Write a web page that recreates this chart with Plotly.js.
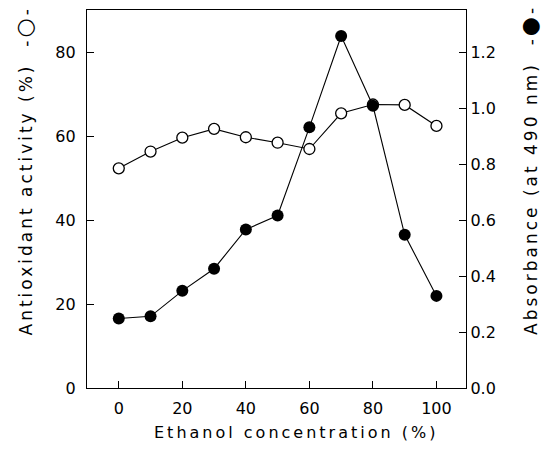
<!DOCTYPE html>
<html><head><meta charset="utf-8">
<script src="https://cdn.plot.ly/plotly-3.0.1.min.js"></script>
<style>
html,body{margin:0;padding:0;background:#fff;}
#chart{width:551px;height:457px;}
.annotation-text{letter-spacing:3px;}
</style></head><body><div id="chart"></div>
<script>
const ethanol = [0, 10, 20, 30, 40, 50, 60, 70, 80, 90, 100];
const antioxidant = [52.3, 56.3, 59.6, 61.7, 59.7, 58.4, 56.9, 65.4, 67.5, 67.4, 62.4];
const absorbance = [0.248, 0.256, 0.347, 0.426, 0.566, 0.616, 0.931, 1.257, 1.008, 0.547, 0.329];
const xTicks = [0, 20, 40, 60, 80, 100];
const yTicks = [0, 20, 40, 60, 80];
const y2Ticks = [0, 0.2, 0.4, 0.6, 0.8, 1.0, 1.2];
const xTitle = 'Ethanol concentration (%)';
const yTitle = 'Antioxidant activity (%)  -<span style="font-size:22px">○</span>-';
const y2Title = 'Absorbance (at 490 nm)  -<span style="font-size:22px">●</span>-';

const font = {family: 'DejaVu Sans', size: 16, color: '#000'};
const yFont = {family: 'DejaVu Sans', size: 17, color: '#000'};

const traces = [
  {x: ethanol, y: antioxidant, type: 'scatter', mode: 'lines+markers', yaxis: 'y',
   line: {color: '#000', width: 1.1},
   marker: {symbol: 'circle', size: 11, color: '#fff', line: {color: '#000', width: 1.3}},
   showlegend: false},
  {x: ethanol, y: absorbance, type: 'scatter', mode: 'lines+markers', yaxis: 'y2',
   line: {color: '#000', width: 1.1},
   marker: {symbol: 'circle', size: 12, color: '#000', line: {color: '#000', width: 0}},
   showlegend: false}
];

const axisCommon = {showgrid: false, zeroline: false, showline: true, linecolor: '#000', linewidth: 1.2,
  ticks: 'inside', ticklen: 7, tickwidth: 1, tickcolor: '#000', tickfont: font};

const layout = {
  width: 551, height: 457,
  margin: {l: 87, r: 85, t: 10, b: 69, pad: 0},
  paper_bgcolor: '#fff', plot_bgcolor: '#fff',
  font: font,
  xaxis: Object.assign({}, axisCommon, {range: [-10, 109.3], tickvals: xTicks, mirror: true, ticklabelstandoff: 6}),
  yaxis: Object.assign({}, axisCommon, {range: [0, 90], tickvals: yTicks, ticklabelstandoff: 7}),
  yaxis2: Object.assign({}, axisCommon, {range: [0, 1.35], tickvals: y2Ticks, tickformat: '.1f',
    overlaying: 'y', side: 'right'}),
  annotations: [
    {text: xTitle, xref: 'paper', yref: 'paper', x: 0.551, y: -0.119, xanchor: 'center', yanchor: 'middle',
     showarrow: false, font: font},
    {text: yTitle, xref: 'paper', yref: 'paper', x: -0.166, y: 0.573, xanchor: 'center', yanchor: 'middle',
     textangle: -90, showarrow: false, font: yFont},
    {text: y2Title, xref: 'paper', yref: 'paper', x: 1.169, y: 0.577, xanchor: 'center', yanchor: 'middle',
     textangle: -90, showarrow: false, font: yFont}
  ]
};

Plotly.newPlot('chart', traces, layout, {staticPlot: true, displayModeBar: false});
</script></body></html>
